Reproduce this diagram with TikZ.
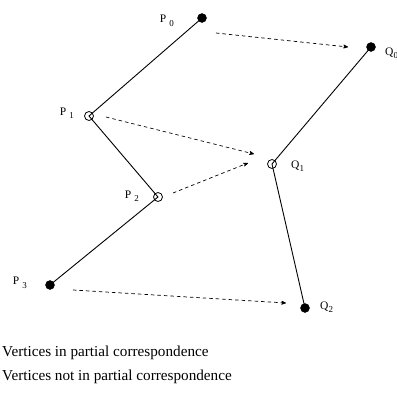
\documentclass[tikz,border=0pt]{standalone}
\usepackage{fontspec}
\setmainfont{Liberation Serif}
\usetikzlibrary{arrows, positioning}

\newcommand{\plab}[1]{P\hspace{3pt}\raisebox{-3.5pt}{\small #1}}
\newcommand{\qlab}[1]{Q\raisebox{-3pt}{\small #1}}

\begin{document}
\begin{tikzpicture}[-,>=stealth',x=1pt,y=-1pt,
        corr/.style={circle, draw, fill=black, inner sep=0pt, minimum size=9pt},
        nocorr/.style={circle, draw, inner sep=0pt, minimum size=9pt, line width=0.8pt},
        vlabel/.style={inner sep=0pt, font=\fontsize{11.5}{13}\selectfont},
        match/.style={->, dashed, dash pattern=on 3.5pt off 3pt, line width=0.7pt}]
        \useasboundingbox (0,0) rectangle (397,394);

        \node at (202,18)  [corr]   (p0) {};
        \node at (89,116)  [nocorr] (p1) {};
        \node at (158,197) [nocorr] (p2) {};
        \node at (50,285)  [corr]   (p3) {};

        \node at (371,47)  [corr]   (q0) {};
        \node at (272,164) [nocorr] (q1) {};
        \node at (305,308) [corr]   (q2) {};

        \node at (174,21)  [vlabel, anchor=east] (p0_lab) {\plab{0}};
        \node at (74,113)  [vlabel, anchor=east] (p1_lab) {\plab{1}};
        \node at (139,196) [vlabel, anchor=east] (p2_lab) {\plab{2}};
        \node at (27,283)  [vlabel, anchor=east] (p3_lab) {\plab{3}};
        \node at (385,53)  [vlabel, anchor=west] (q0_lab) {\qlab{0}};
        \node at (291,166) [vlabel, anchor=west] (q1_lab) {\qlab{1}};
        \node at (320,307) [vlabel, anchor=west] (q2_lab) {\qlab{2}};

        \node at (2,353) [anchor=west, inner sep=0pt, font=\fontsize{15.2}{18}\selectfont] (legend_in) {Vertices in partial correspondence};
        \node at (2,377) [anchor=west, inner sep=0pt, font=\fontsize{15.2}{18}\selectfont] (legend_not) {Vertices not in partial correspondence};

        \draw[line width=0.9pt] (p0.center) -- (p1.center) -- (p2.center) -- (p3.center)
                (q0.center) -- (q1.center) -- (q2.center);

        \draw[match] ([xshift=14pt,yshift=-15pt]p0.center) -- ([xshift=-23pt]q0.center);
        \draw[match] ([xshift=17pt,yshift=-1pt]p1.center) -- ([xshift=-18pt,yshift=10pt]q1.center);
        \draw[match] ([xshift=15pt,yshift=4pt]p2.center) -- ([xshift=-24pt,yshift=1pt]q1.center);
        \draw[match] ([xshift=23pt,yshift=-5pt]p3.center) -- ([xshift=-19pt,yshift=5pt]q2.center);

    \end{tikzpicture}
\end{document}
